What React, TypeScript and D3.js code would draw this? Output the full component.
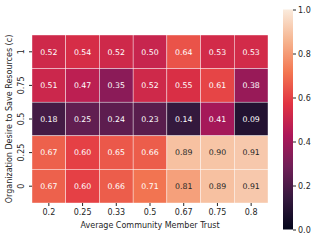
import React, { useEffect, useRef } from "react";
import * as d3 from "d3";

const trustLabels = ["0.2", "0.25", "0.33", "0.5", "0.67", "0.75", "0.8"];
const desireLabels = ["1", "0.75", "0.5", "0.25", "0"];
const rowC1 = [0.52, 0.54, 0.52, 0.5, 0.64, 0.53, 0.53];
const rowC075 = [0.51, 0.47, 0.35, 0.52, 0.55, 0.61, 0.38];
const rowC05 = [0.18, 0.25, 0.24, 0.23, 0.14, 0.41, 0.09];
const rowC025 = [0.67, 0.6, 0.65, 0.66, 0.89, 0.9, 0.91];
const rowC0 = [0.67, 0.6, 0.66, 0.71, 0.81, 0.89, 0.91];
const colorbarTicks = [0, 0.2, 0.4, 0.6, 0.8, 1.0];

// rocket colormap key colours
const rocketStops = ["#03051a", "#35193e", "#701f57", "#ad1759", "#e13342", "#f37651", "#f6b48f", "#faebdd"];

const App = () => {
    const ref = useRef<SVGSVGElement>(null);

    useEffect(() => {
        const svg = d3.select(ref.current);
        svg.selectAll("*").remove();

        const rows = [rowC1, rowC075, rowC05, rowC025, rowC0];
        const font = "DejaVu Sans, sans-serif";
        const left = 32, top = 35, w = 236, h = 168;

        const color = d3.scaleLinear<string>()
            .domain(rocketStops.map((_, i) => i / (rocketStops.length - 1)))
            .range(rocketStops)
            .interpolate(d3.interpolateRgb)
            .clamp(true);

        const lum = (c: string) => {
            const rgb = d3.rgb(c);
            const f = (v: number) => {
                v /= 255;
                return v <= 0.03928 ? v / 12.92 : Math.pow((v + 0.055) / 1.055, 2.4);
            };
            return 0.2126 * f(rgb.r) + 0.7152 * f(rgb.g) + 0.0722 * f(rgb.b);
        };

        const x = d3.scaleBand().domain(trustLabels).range([left, left + w]);
        const y = d3.scaleBand().domain(desireLabels).range([top, top + h]);

        const cells = rows.flatMap((r, i) => r.map((v, j) => ({ row: desireLabels[i], col: trustLabels[j], v })));

        const g = svg.append("g");
        g.selectAll("rect.cell")
            .data(cells)
            .enter().append("rect")
            .attr("class", "cell")
            .attr("x", d => x(d.col)!)
            .attr("y", d => y(d.row)!)
            .attr("width", x.bandwidth())
            .attr("height", y.bandwidth())
            .attr("fill", d => color(d.v))
            .attr("stroke", "white")
            .attr("stroke-opacity", 0.8)
            .attr("stroke-width", 0.5);

        g.selectAll("text.annot")
            .data(cells)
            .enter().append("text")
            .attr("x", d => x(d.col)! + x.bandwidth() / 2)
            .attr("y", d => y(d.row)! + y.bandwidth() / 2)
            .attr("dy", "0.35em")
            .attr("text-anchor", "middle")
            .style("font-family", font)
            .style("font-size", "7.8px")
            .attr("fill", d => (lum(color(d.v)) > 0.408 ? "#262626" : "white"))
            .text(d => d.v.toFixed(2));

        // x axis
        const xAxis = svg.append("g")
            .attr("transform", `translate(0,${top + h})`)
            .call(d3.axisBottom(x).tickSize(3).tickPadding(3));
        xAxis.select(".domain").remove();
        xAxis.selectAll("text").style("font-family", font).style("font-size", "8px").attr("fill", "#262626");
        xAxis.selectAll("line").attr("stroke", "#262626");

        svg.append("text")
            .attr("x", left + w / 2)
            .attr("y", 227.5)
            .attr("text-anchor", "middle")
            .style("font-family", font)
            .style("font-size", "8px")
            .attr("fill", "#262626")
            .text("Average Community Member Trust");

        // y axis
        const yAxis = svg.append("g")
            .attr("transform", `translate(${left},0)`)
            .call(d3.axisLeft(y).tickSize(3).tickPadding(3));
        yAxis.select(".domain").remove();
        yAxis.selectAll("line").attr("stroke", "#262626");
        yAxis.selectAll("text")
            .style("font-family", font)
            .style("font-size", "8px")
            .attr("fill", "#262626")
            .attr("text-anchor", "middle")
            .attr("x", null)
            .attr("dy", null)
            .attr("transform", "translate(-8,0) rotate(-90)");

        svg.append("text")
            .attr("transform", `translate(12,${top + h / 2}) rotate(-90)`)
            .attr("text-anchor", "middle")
            .style("font-family", font)
            .style("font-size", "8px")
            .attr("fill", "#262626")
            .text("Organization Desire to Save Resources (c)");

        // colorbar
        const cbX = 283, cbW = 10, cbTop = 9.5, cbBottom = 229.5;
        const defs = svg.append("defs");
        const grad = defs.append("linearGradient")
            .attr("id", "rocket")
            .attr("x1", 0).attr("y1", 1).attr("x2", 0).attr("y2", 0);
        rocketStops.forEach((c, i) => {
            grad.append("stop")
                .attr("offset", `${(i / (rocketStops.length - 1)) * 100}%`)
                .attr("stop-color", c);
        });
        svg.append("rect")
            .attr("x", cbX)
            .attr("y", cbTop)
            .attr("width", cbW)
            .attr("height", cbBottom - cbTop)
            .attr("fill", "url(#rocket)");

        const cbScale = d3.scaleLinear().domain([0, 1]).range([cbBottom, cbTop]);
        const cbAxis = svg.append("g")
            .attr("transform", `translate(${cbX + cbW},0)`)
            .call(d3.axisRight(cbScale).tickValues(colorbarTicks).tickFormat(d3.format(".1f")).tickSize(3).tickPadding(2));
        cbAxis.select(".domain").remove();
        cbAxis.selectAll("line").attr("stroke", "#262626");
        cbAxis.selectAll("text").style("font-family", font).style("font-size", "8px").attr("fill", "#262626");
    }, []);

    return (
        <svg ref={ref} width={319} height={241} style={{ position: "absolute", left: 0, top: 0, background: "white" }} />
    );
};

export default App;
